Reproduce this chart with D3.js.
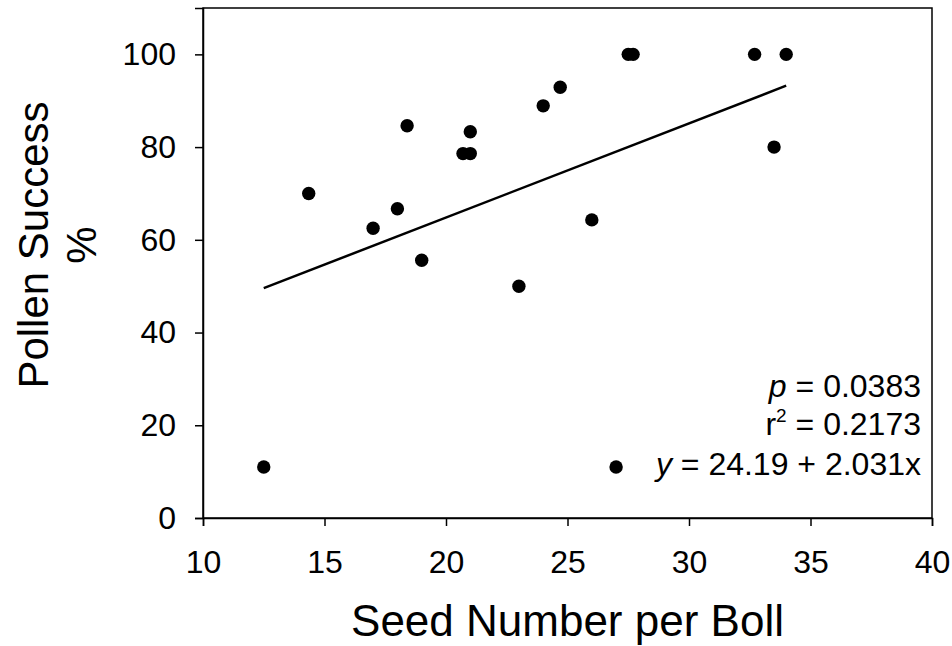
<!DOCTYPE html>
<html>
<head>
<meta charset="utf-8">
<script src="https://cdn.jsdelivr.net/npm/d3@7"></script>
<style>
  body { margin: 0; background: #fff; }
  svg text { font-family: Arial, "Liberation Sans", sans-serif; fill: #000; }
</style>
</head>
<body>
<svg id="chart" width="952" height="646"></svg>
<script>
// seed number per boll vs pollen success (%)
let seeds   = [12.5, 14.35, 17, 18, 18.4, 19, 20.7, 21, 21, 23, 24, 24.7, 26, 27, 27.5, 27.7, 32.7, 33.5, 34];
let success = [11, 70, 62.5, 66.7, 84.6, 55.6, 78.6, 78.6, 83.3, 50, 88.9, 92.9, 64.3, 11, 100, 100, 100, 80, 100];
let xTicks = [10, 15, 20, 25, 30, 35, 40];
let yTicks = [0, 20, 40, 60, 80, 100];
let fit = {intercept: 24.19, slope: 2.031, p: "0.0383", r2: "0.2173"};

let svg = d3.select("#chart");
let margin = {left: 203, right: 20, top: 8, bottom: 128};
let width = 952, height = 646;

let x = d3.scaleLinear().domain([10, 40]).range([margin.left, width - margin.right]);
let y = d3.scaleLinear().domain([0, 110]).range([height - margin.bottom, margin.top]);

// frame
svg.append("rect")
  .attr("x", x(10)).attr("y", y(110))
  .attr("width", x(40) - x(10)).attr("height", y(0) - y(110))
  .style("fill", "none").style("stroke", "#000").style("stroke-width", 1.5);

let xAxis = svg.append("g")
  .attr("transform", "translate(0," + y(0) + ")")
  .call(d3.axisBottom(x).tickValues(xTicks).tickSize(8).tickPadding(24));
let yAxis = svg.append("g")
  .attr("transform", "translate(" + x(10) + ",0)")
  .call(d3.axisLeft(y).tickValues(yTicks).tickSize(8).tickPadding(19));

[xAxis, yAxis].forEach(function(a){
  a.select(".domain").style("stroke-width", 1.5);
  a.selectAll(".tick line").style("stroke-width", 1.5);
  a.selectAll(".tick text").style("font-size", "32px").style("font-family", "Arial, 'Liberation Sans', sans-serif");
});

// regression line
let x0 = d3.min(seeds), x1 = d3.max(seeds);
svg.append("line")
  .attr("x1", x(x0)).attr("y1", y(fit.intercept + fit.slope * x0))
  .attr("x2", x(x1)).attr("y2", y(fit.intercept + fit.slope * x1))
  .style("stroke", "#000").style("stroke-width", 2.5);

svg.selectAll(".dot")
  .data(seeds)
  .enter()
  .append("circle")
  .attr("class", "dot")
  .attr("cx", d => x(d))
  .attr("cy", (d, i) => y(success[i]))
  .attr("r", 6.7)
  .style("fill", "#000");

// stats text
let stats = svg.append("g").style("font-size", "32px").attr("text-anchor", "end");
let tx = 921;
let t1 = stats.append("text").attr("x", tx).attr("y", 397);
t1.append("tspan").style("font-style", "italic").text("p");
t1.append("tspan").text(" = " + fit.p);
let t2 = stats.append("text").attr("x", tx).attr("y", 435);
t2.append("tspan").text("r");
t2.append("tspan").attr("dy", -13).style("font-size", "19px").text("2");
t2.append("tspan").attr("dy", 13).text(" = " + fit.r2);
let t3 = stats.append("text").attr("x", tx).attr("y", 475);
t3.append("tspan").style("font-style", "italic").text("y");
t3.append("tspan").text(" = " + fit.intercept + " + " + fit.slope + "x");

// axis titles
svg.append("text")
  .attr("x", (x(10) + x(40)) / 2).attr("y", 636)
  .attr("text-anchor", "middle")
  .style("font-size", "44px")
  .text("Seed Number per Boll");

let yTitle = svg.append("text")
  .attr("transform", "translate(48,245) rotate(-90)")
  .attr("text-anchor", "middle")
  .style("font-size", "42px");
yTitle.append("tspan").attr("x", 0).attr("y", 0).text("Pollen Success");
yTitle.append("tspan").attr("x", 0).attr("y", 48).text("%");
</script>
</body>
</html>
